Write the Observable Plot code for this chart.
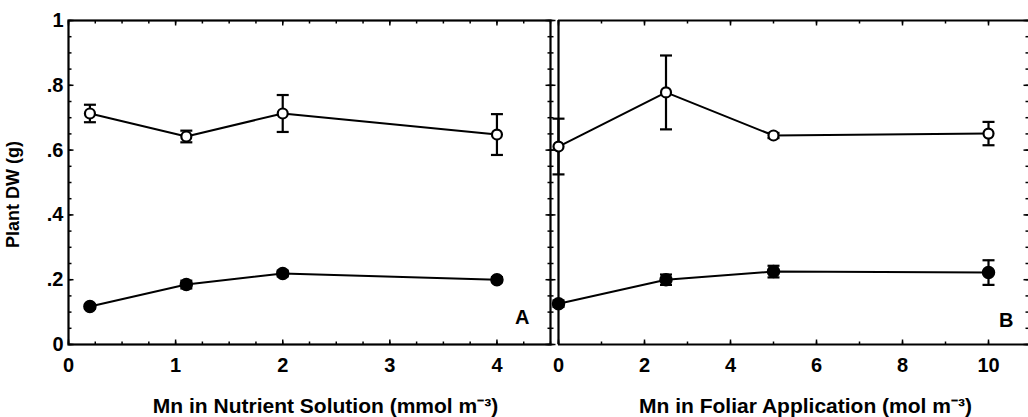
<!DOCTYPE html>
<html>
<head>
<meta charset="utf-8">
<script src="https://cdn.jsdelivr.net/npm/d3@7"></script>
<script src="https://cdn.jsdelivr.net/npm/@observablehq/plot@0.6"></script>
<style>
  html, body { margin: 0; padding: 0; background: white; }
  #chart { position: relative; width: 1028px; height: 417px; overflow: hidden; }
  #chart svg { position: absolute; top: 0; overflow: visible; background: transparent; }
</style>
</head>
<body>
<div id="chart"></div>
<script>
// ---------- data ----------
const aX = [0.2, 1.1, 2, 4];
const aOpen = [0.713, 0.642, 0.713, 0.648];
const aOpenErr = [0.027, 0.018, 0.057, 0.063];
const aFilled = [0.117, 0.185, 0.219, 0.200];
const aFilledErr = [0.006, 0.012, 0.009, 0.008];

const bX = [0, 2.5, 5, 10];
const bOpen = [0.611, 0.778, 0.645, 0.651];
const bOpenErr = [0.086, 0.114, 0.008, 0.036];
const bFilled = [0.126, 0.200, 0.225, 0.222];
const bFilledErr = [0.010, 0.016, 0.018, 0.038];

const yTickValues = [0, 0.2, 0.4, 0.6, 0.8, 1];
const yTickLabels = ["0", ".2", ".4", ".6", ".8", "1"];
const yMinorTicks = d3.range(0, 1.0001, 0.05);
const aTickValues = [0, 1, 2, 3, 4];
const aMinorTicks = d3.range(0, 4.5001, 0.25);
const bTickValues = [0, 2, 4, 6, 8, 10];
const bMinorTicks = d3.range(0, 11, 1);

const titleA = "Mn in Nutrient Solution (mmol m\u207B\u00B3)";
const titleB = "Mn in Foliar Application (mol m\u207B\u00B3)";
const yTitle = "Plant DW (g)";

// ---------- helpers ----------
const hLine = (a, b) => ({draw(c) { c.moveTo(a, 0); c.lineTo(b, 0); }});
const vLine = (a, b) => ({draw(c) { c.moveTo(0, a); c.lineTo(0, b); }});
const cap = hLine(-6, 6);

function rows(xs, ys, es) {
  return xs.map((x, i) => ({x, y: ys[i], lo: ys[i] - es[i], hi: ys[i] + es[i]}));
}

function seriesMarks(data, filled) {
  return [
    Plot.line(data, {x: "x", y: "y", stroke: "black", strokeWidth: 2}),
    Plot.ruleX(data, {x: "x", y1: "lo", y2: "hi", stroke: "black", strokeWidth: 2.2}),
    Plot.dot(data, {x: "x", y: "hi", symbol: cap, stroke: "black", strokeWidth: 2.2, fill: "none"}),
    Plot.dot(data, {x: "x", y: "lo", symbol: cap, stroke: "black", strokeWidth: 2.2, fill: "none"}),
    filled
      ? Plot.dot(data, {x: "x", y: "y", r: 6, fill: "black", stroke: "black"})
      : Plot.dot(data, {x: "x", y: "y", r: 5, fill: "white", stroke: "black", strokeWidth: 2.2})
  ];
}

function yTicks(anchor, sym, symMinor) {
  return [
    Plot.dot(yTickValues, {y: d => d, frameAnchor: anchor, symbol: sym, stroke: "black", strokeWidth: 1.5, fill: "none"}),
    Plot.dot(yMinorTicks, {y: d => d, frameAnchor: anchor, symbol: symMinor, stroke: "black", strokeWidth: 1.5, fill: "none"})
  ];
}
function xTicks(major, minor) {
  return [
    Plot.dot(major, {x: d => d, frameAnchor: "bottom", symbol: vLine(0, -5), stroke: "black", strokeWidth: 1.5, fill: "none"}),
    Plot.dot(minor, {x: d => d, frameAnchor: "bottom", symbol: vLine(0, -3), stroke: "black", strokeWidth: 1.5, fill: "none"}),
    Plot.dot(major, {x: d => d, frameAnchor: "top", symbol: vLine(0, 5), stroke: "black", strokeWidth: 1.5, fill: "none"}),
    Plot.dot(minor, {x: d => d, frameAnchor: "top", symbol: vLine(0, 3), stroke: "black", strokeWidth: 1.5, fill: "none"})
  ];
}

const style = {fontFamily: "'Liberation Sans', Arial, sans-serif", fontWeight: "bold", fontSize: "20px", background: "transparent", overflow: "visible", color: "black"};
const H = 417, MT = 20, MB = 73;

// ---------- panel A ----------
const plotA = Plot.plot({
  width: 554, height: H,
  marginLeft: 68, marginRight: 4, marginTop: MT, marginBottom: MB,
  style,
  x: {domain: [0, 4.5], axis: null},
  y: {domain: [0, 1], axis: null},
  marks: [
    Plot.frame({stroke: "black", strokeWidth: 2.2}),
    Plot.axisY(yTickValues, {anchor: "left", tickSize: 0, tickPadding: 5, tickFormat: (d, i) => yTickLabels[i], fontSize: 20, fontWeight: "bold", label: null}),
    Plot.axisX(aTickValues, {anchor: "bottom", tickSize: 0, tickPadding: 13, tickFormat: d => String(d), fontSize: 20, fontWeight: "bold", label: null}),
    ...yTicks("left", hLine(0, 5), hLine(0, 3)),
    ...yTicks("right", hLine(-5, 5), hLine(-3, 3)),
    ...xTicks(aTickValues, aMinorTicks),
    Plot.text([yTitle], {text: d => d, frameAnchor: "left", textAnchor: "middle", rotate: -90, dx: -55, dy: 12, fontSize: 18, fontWeight: "bold"}),
    Plot.text([titleA], {text: d => d, frameAnchor: "bottom", textAnchor: "middle", lineAnchor: "bottom", dy: 68, dx: 16, fontSize: 21, fontWeight: "bold"}),
    Plot.text(["A"], {text: d => d, frameAnchor: "bottom-right", dx: -21, dy: -21, fontSize: 20, fontWeight: "bold"}),
    ...seriesMarks(rows(aX, aOpen, aOpenErr), false),
    ...seriesMarks(rows(aX, aFilled, aFilledErr), true)
  ]
});
plotA.style.left = "0px";

// ---------- panel B ----------
const plotB = Plot.plot({
  width: 474, height: H,
  marginLeft: 4, marginRight: 0, marginTop: MT, marginBottom: MB,
  style,
  x: {domain: [0, 10.93], axis: null},
  y: {domain: [0, 1], axis: null},
  marks: [
    Plot.ruleX([0], {stroke: "black", strokeWidth: 2.2}),
    Plot.ruleY([0, 1], {stroke: "black", strokeWidth: 2.2}),
    Plot.axisX(bTickValues, {anchor: "bottom", tickSize: 0, tickPadding: 13, tickFormat: d => String(d), fontSize: 20, fontWeight: "bold", label: null}),
    ...yTicks("right", hLine(-5, 0), hLine(-3, 0)),
    ...xTicks(bTickValues, bMinorTicks),
    Plot.text([titleB], {text: d => d, frameAnchor: "bottom", textAnchor: "middle", lineAnchor: "bottom", dy: 68, dx: 12, fontSize: 21, fontWeight: "bold"}),
    Plot.text(["B"], {text: d => d, frameAnchor: "bottom-right", dx: -15, dy: -18, fontSize: 20, fontWeight: "bold"}),
    ...seriesMarks(rows(bX, bOpen, bOpenErr), false),
    ...seriesMarks(rows(bX, bFilled, bFilledErr), true)
  ]
});
plotB.style.left = "554px";

const root = document.getElementById("chart");
root.appendChild(plotA);
root.appendChild(plotB);
</script>
</body>
</html>
